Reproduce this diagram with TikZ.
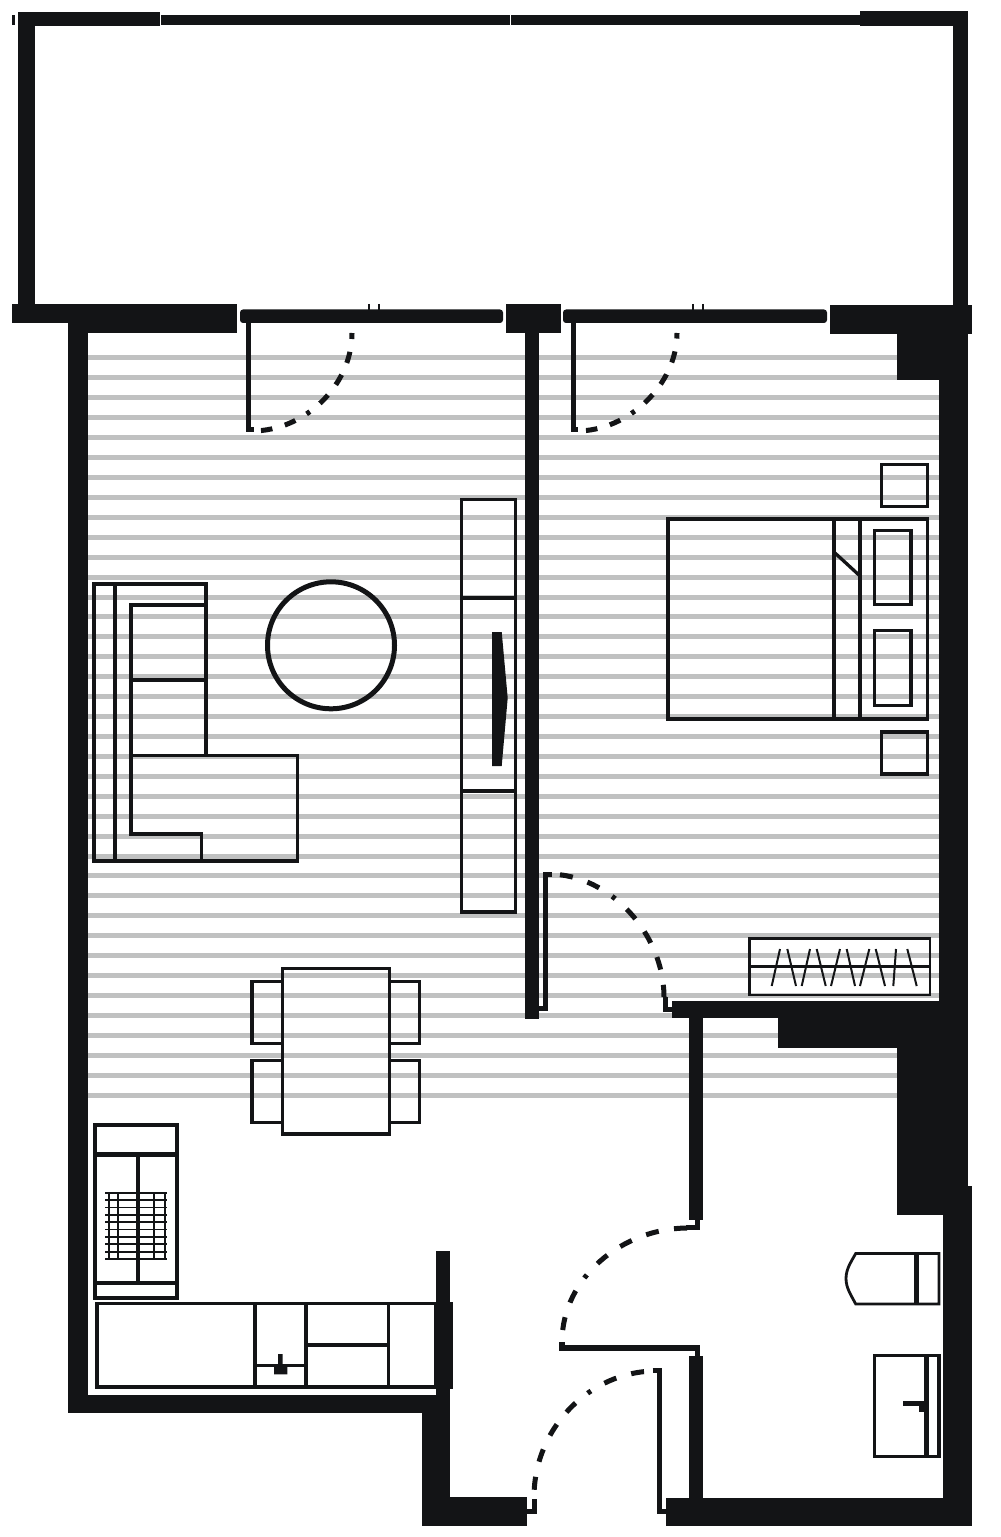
\documentclass[tikz,border=0pt]{standalone}
\usepackage{xcolor}
\definecolor{wallblack}{HTML}{131416}
\definecolor{stripegray}{HTML}{C0C1C1}

\begin{document}
\begin{tikzpicture}[x=0.01cm,y=-0.01cm]
	% styles
	\tikzstyle{wall} = [fill=wallblack]	% solid walls
	\tikzstyle{stripe} = [draw=stripegray,line width=0.05cm]	% floor boards
	\tikzstyle{furn} = [draw=wallblack,line width=0.033cm]	% furniture
	\tikzstyle{leaf} = [draw=wallblack,line width=0.05cm]	% door leaf
	\tikzstyle{swing} = [draw=wallblack,line width=0.05cm,dash pattern=on 0cm off 0.09cm on 0.115cm off 0.13cm on 0.115cm off 0.13cm on 0.04cm off 0.13cm on 0.115cm off 0.13cm on 0.115cm off 0.13cm on 0.115cm off 0.13cm on 0.115cm off 1cm]
	\tikzstyle{swinglarge} = [draw=wallblack,line width=0.05cm,dash pattern=on 0cm off 0.12cm on 0.13cm off 0.155cm on 0.13cm off 0.155cm on 0.04cm off 0.155cm on 0.13cm off 0.155cm on 0.13cm off 0.155cm on 0.13cm off 0.155cm on 0.13cm off 1cm]
	\useasboundingbox (0,0) rectangle (1000,1537);

	% floor stripes
	\foreach \k in {0,...,37}
		\draw[stripe] (87,{358+19.92*\k}) -- (940,{358+19.92*\k});

	% walls
	\foreach \xa/\ya/\xb/\yb in {
		12/15/14.5/25, 17.5/12/160/26, 161/15/509.5/25, 511/15/860/25, 860/11.5/968/26,
		17.5/12/35/305, 953/12/968/305,
		12/304/237/323, 68/304/237/333, 68/323/87.5/1412.5, 68/1394.5/450/1412.5,
		506/304/560.5/333, 525/333/538.5/1019,
		829.5/305/972/334, 897/334/968/380, 939/380/968/1186,
		671.5/1001/968/1018, 777.5/1018/968/1048, 897/1048/968/1215, 943/1186/972/1526,
		665.5/1497.5/972/1526, 689/1018/703.3/1219.5, 688.7/1355.7/703.3/1497.5,
		435.7/1250.7/450/1412.5, 435.7/1301.7/452.7/1389, 422/1412/450/1526, 422/1497.3/526.7/1526}
		\fill[wall] (\xa,\ya) rectangle (\xb,\yb);

	% sliding doors
	\fill[wall,rounded corners=0.03cm] (240,309.5) rectangle (503,323);
	\fill[wall,rounded corners=0.03cm] (563,309.5) rectangle (827,323);
	\foreach \xa in {369,379,693,703}
		\draw[draw=wallblack,line width=0.015cm] (\xa,304) -- (\xa,310);

	% door leaves
	\draw[leaf] (248.5,323) -- (248.5,430) -- (254,430);
	\draw[leaf] (573,323) -- (573,430) -- (578,430);
	\draw[leaf] (552,874) -- (545.5,874) -- (545.5,1008.5) -- (538,1008.5);
	\draw[leaf] (665.7,997) -- (665.7,1009) -- (672,1009);
	\draw[leaf] (652.7,1370) -- (659,1370) -- (659,1511) -- (666,1511);
	\draw[leaf] (534,1499) -- (534,1511) -- (527,1511);
	\draw[leaf,line width=0.055cm] (562,1342) -- (562,1348) -- (697.5,1348) -- (697.5,1356);
	\draw[leaf] (697.5,1219) -- (697.5,1227.5) -- (686,1227.5);

	% door swings
	\draw[swing] (252,431) .. controls (305,431) and (352,385) .. (352,333);
	\draw[swing] (577,431) .. controls (628,431) and (677,385) .. (677,333);
	\draw[swinglarge] (548,874) .. controls (611,874) and (664,935) .. (664,997);
	\draw[swinglarge] (656,1371) .. controls (590,1371) and (534,1428) .. (534,1497);
	\draw[swinglarge] (562,1342) .. controls (562,1278) and (622,1228) .. (688,1228);

	% sofa
	\draw[furn] (94,584) -- (206,584) -- (206,755.5) -- (297.5,755.5) -- (297.5,861) -- (94,861) -- cycle;
	\draw[furn] (115,584) -- (115,861);
	\draw[furn] (206,605) -- (131,605) -- (131,834) -- (201.7,834) -- (201.7,861);
	\draw[furn] (131,680) -- (206,680);
	\draw[furn] (131,755.5) -- (206,755.5);

	% round table
	\draw[furn,line width=0.05cm] (331,645.3) circle (63.5);

	% media unit
	\draw[furn,line width=0.035cm] (461.5,499.5) rectangle (515.5,912);
	\draw[furn,line width=0.035cm] (461.5,598) -- (515.5,598);
	\draw[furn] (461.5,791) -- (515.5,791);
	\fill[wall] (492,632) -- (501.7,632) -- (507.7,698) -- (501.7,766) -- (492,766) -- cycle;

	% bed
	\draw[furn] (668,519) rectangle (927.5,719);
	\draw[furn] (834,519) -- (834,719);
	\draw[furn] (860,519) -- (860,719);
	\draw[furn] (835,553) -- (860,576);
	\draw[furn] (874.5,530.5) rectangle (911,604.5);
	\draw[furn] (874.5,630.5) rectangle (911,705.5);
	\draw[furn] (881.5,464.5) rectangle (927.5,506.5);
	\draw[furn] (881.5,732) rectangle (927.5,774);

	% wardrobe
	\draw[furn,line width=0.025cm] (749.5,938.5) rectangle (930,995);
	\draw[furn,line width=0.025cm] (749.5,966.7) -- (930,966.7);
	\foreach \xa/\xb in {771.7/780,796/787.3,801.7/810,825.7/816.7,831/840,855/846.7,860/869.3,885/875.7,893.3/896,916.7/907.3}
		\draw[furn,line width=0.02cm] (\xa,986) -- (\xb,949);

	% dining table
	\draw[furn,line width=0.035cm] (282.5,968.5) rectangle (389.5,1134);
	\foreach \ya/\yb in {981.5/1043.5,1060.5/1122.5} {
		\draw[furn] (282,\ya) -- (252,\ya) -- (252,\yb) -- (282,\yb);
		\draw[furn] (390,\ya) -- (419.5,\ya) -- (419.5,\yb) -- (390,\yb);
	}

	% cooker
	\draw[furn,line width=0.04cm] (95.3,1124.7) rectangle (177.3,1298);
	\draw[furn,line width=0.045cm] (95.3,1154.3) -- (177.3,1154.3);
	\draw[furn] (95.3,1283) -- (177.3,1283);
	\draw[furn,line width=0.04cm] (137.7,1154.3) -- (137.7,1283);
	\foreach \k in {0,...,9}
		\draw[furn,line width=0.017cm] (105,{1192.7+7.37*\k}) -- (166.7,{1192.7+7.37*\k});
	\foreach \xa in {109.3,118.3,154.3,165}
		\draw[furn,line width=0.017cm] (\xa,1192.7) -- (\xa,1259);

	% kitchen counter
	\draw[furn,line width=0.035cm] (97,1303.5) rectangle (436,1387);
	\draw[furn,line width=0.045cm] (255,1303.5) -- (255,1387);
	\draw[furn,line width=0.045cm] (306,1303.5) -- (306,1387);
	\draw[furn,line width=0.035cm] (388.3,1303.5) -- (388.3,1387);
	\draw[furn] (306,1345) -- (388.3,1345);
	\draw[furn] (255,1365.7) -- (306,1365.7);
	\fill[wall] (278,1354) -- (282.7,1354) -- (282.7,1365.7) -- (287.3,1365.7) -- (287.3,1374.3) -- (274,1374.3) -- (274,1365.7) -- (278,1365.7) -- cycle;

	% toilet
	\draw[furn,line width=0.028cm] (855.7,1253.5) -- (939,1253.5) -- (939,1304) -- (855.7,1304) .. controls (851,1295) and (846,1288) .. (846,1278.5) .. controls (846,1269) and (851,1262) .. (855.7,1253.5) -- cycle;
	\draw[furn,line width=0.05cm] (916.7,1253.5) -- (916.7,1304);

	% vanity
	\draw[furn] (874.2,1355.8) rectangle (939,1456.2);
	\draw[furn,line width=0.045cm] (926.7,1355.8) -- (926.7,1456.2);
	\fill[wall] (903.3,1400.7) rectangle (926,1405.7);
	\fill[wall] (919.3,1405) rectangle (926,1411.7);
\end{tikzpicture}
\end{document}
